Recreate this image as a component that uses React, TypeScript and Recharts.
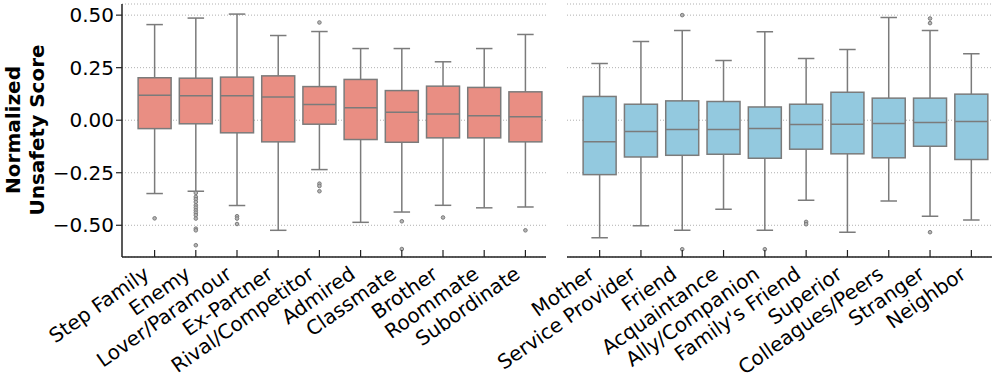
import React from "react";
import { ComposedChart, Bar, XAxis, YAxis, CartesianGrid } from "recharts";

// left panel (salmon)
const leftCats = ["Step Family", "Enemy", "Lover/Paramour", "Ex-Partner", "Rival/Competitor", "Admired", "Classmate", "Brother", "Roommate", "Subordinate"];
const leftLow = [-0.349, -0.338, -0.406, -0.524, -0.235, -0.486, -0.437, -0.405, -0.417, -0.413];
const leftQ1 = [-0.04, -0.017, -0.06, -0.103, -0.019, -0.092, -0.105, -0.084, -0.084, -0.103];
const leftMed = [0.119, 0.116, 0.116, 0.11, 0.075, 0.059, 0.038, 0.029, 0.021, 0.016];
const leftQ3 = [0.202, 0.2, 0.205, 0.211, 0.16, 0.194, 0.141, 0.162, 0.156, 0.135];
const leftHigh = [0.455, 0.486, 0.505, 0.403, 0.422, 0.341, 0.341, 0.278, 0.341, 0.408];
const leftOutliers = [
  [-0.467],
  [-0.346, -0.365, -0.376, -0.389, -0.405, -0.416, -0.429, -0.44, -0.452, -0.468, -0.516, -0.524, -0.595],
  [-0.457, -0.468, -0.494],
  [],
  [0.465, -0.302, -0.313, -0.338],
  [],
  [-0.481, -0.613],
  [-0.463],
  [],
  [-0.524],
];

// right panel (sky blue)
const rightCats = ["Mother", "Service Provider", "Friend", "Acquaintance", "Ally/Companion", "Family's Friend", "Superior", "Colleagues/Peers", "Stranger", "Neighbor"];
const rightLow = [-0.559, -0.502, -0.524, -0.424, -0.524, -0.381, -0.533, -0.384, -0.457, -0.475];
const rightQ1 = [-0.259, -0.175, -0.167, -0.162, -0.181, -0.138, -0.16, -0.179, -0.124, -0.187];
const rightMed = [-0.102, -0.054, -0.044, -0.044, -0.04, -0.021, -0.019, -0.016, -0.011, -0.006];
const rightQ3 = [0.113, 0.076, 0.092, 0.089, 0.063, 0.076, 0.133, 0.105, 0.105, 0.124];
const rightHigh = [0.27, 0.375, 0.427, 0.284, 0.421, 0.294, 0.336, 0.489, 0.427, 0.316];
const rightOutliers = [
  [],
  [],
  [0.5, -0.614],
  [],
  [-0.614],
  [-0.484, -0.495],
  [],
  [],
  [0.484, 0.462, -0.533],
  [],
];

const yTicks = [-0.5, -0.25, 0, 0.25, 0.5];
const yDomain = [-0.651, 0.553];

const FONT = "DejaVu Sans";
const LINE = "#7b7b7b";

const buildRows = (cats, low, q1, med, q3, high, outs) =>
  cats.map((name, i) => ({
    name,
    range: [low[i], high[i]],
    low: low[i],
    q1: q1[i],
    med: med[i],
    q3: q3[i],
    high: high[i],
    outliers: outs[i],
  }));

const leftRows = buildRows(leftCats, leftLow, leftQ1, leftMed, leftQ3, leftHigh, leftOutliers);
const rightRows = buildRows(rightCats, rightLow, rightQ1, rightMed, rightQ3, rightHigh, rightOutliers);

// box, whiskers and fliers, placed with the bar's own scaled y/height
const makeBox = (fill: string) => (props: any) => {
  const { x, y, width, height, payload } = props;
  const { low, high, q1, med, q3, outliers } = payload;
  const toY = (v: number) => y + ((high - v) / (high - low)) * height;
  const cx = x + width / 2;
  const capHalf = width / 4;
  return (
    <g>
      <line x1={cx} x2={cx} y1={toY(high)} y2={toY(q3)} stroke={LINE} strokeWidth={1.5} />
      <line x1={cx} x2={cx} y1={toY(q1)} y2={toY(low)} stroke={LINE} strokeWidth={1.5} />
      <line x1={cx - capHalf} x2={cx + capHalf} y1={toY(high)} y2={toY(high)} stroke={LINE} strokeWidth={1.5} />
      <line x1={cx - capHalf} x2={cx + capHalf} y1={toY(low)} y2={toY(low)} stroke={LINE} strokeWidth={1.5} />
      <rect x={x} y={toY(q3)} width={width} height={toY(q1) - toY(q3)} fill={fill} stroke={LINE} strokeWidth={1.5} />
      <line x1={x} x2={x + width} y1={toY(med)} y2={toY(med)} stroke={LINE} strokeWidth={1.5} />
      {outliers.map((o: number, k: number) => (
        <circle key={k} cx={cx} cy={toY(o)} r={1.8} fill="#b5b5b5" stroke={LINE} strokeWidth={1} />
      ))}
    </g>
  );
};

const XTick = (props: any) => {
  const { x, y, payload } = props;
  const tx = x - 4;
  const ty = y + 20;
  return (
    <g>
      <line x1={x} x2={x} y1={y} y2={y - 7} stroke="#222" strokeWidth={1.2} />
      <text x={tx} y={ty} textAnchor="end" transform={`rotate(-35, ${tx}, ${ty})`} fontSize={20} fontFamily={FONT} fill="#000">
        {payload.value}
      </text>
    </g>
  );
};

const fmt = (v: number) => (v < 0 ? "\u2212" + Math.abs(v).toFixed(2) : v.toFixed(2));

export default function App() {
  return (
    <div style={{ position: "absolute", left: 0, top: 0, width: 996, height: 387, background: "#fff" }}>
      <div style={{ position: "absolute", left: 0, top: 0 }}>
        <ComposedChart width={546} height={387} data={leftRows} margin={{ top: 4, right: 0, bottom: 0, left: 0 }} barCategoryGap="10%">
          <CartesianGrid vertical={false} stroke="#b0b0b0" strokeDasharray="1 2" />
          <XAxis
            dataKey="name"
            type="category"
            interval={0}
            height={130}
            padding={{ left: 12, right: 0 }}
            tickSize={0}
            tickMargin={0}
            tick={<XTick />}
            axisLine={{ stroke: "#222", strokeWidth: 1.5 }}
          />
          <YAxis
            domain={yDomain}
            allowDataOverflow
            ticks={yTicks}
            width={122}
            tickSize={6}
            tickMargin={2}
            tickFormatter={fmt}
            tick={{ fontSize: 20, fontFamily: FONT, fill: "#000" }}
            tickLine={{ stroke: "#222", strokeWidth: 1.2 }}
            axisLine={{ stroke: "#222", strokeWidth: 1.5 }}
          />
          <Bar dataKey="range" isAnimationActive={false} shape={makeBox("#E98E83")} />
        </ComposedChart>
      </div>
      <div style={{ position: "absolute", left: 0, top: 0 }}>
        <ComposedChart width={992} height={387} data={rightRows} margin={{ top: 4, right: 0, bottom: 0, left: 567 }} barCategoryGap="10%">
          <CartesianGrid vertical={false} stroke="#b0b0b0" strokeDasharray="1 2" />
          <XAxis
            dataKey="name"
            type="category"
            interval={0}
            height={130}
            padding={{ left: 12, right: 0 }}
            tickSize={0}
            tickMargin={0}
            tick={<XTick />}
            axisLine={{ stroke: "#222", strokeWidth: 1.5 }}
          />
          <YAxis hide domain={yDomain} allowDataOverflow ticks={yTicks} width={0} />
          <Bar dataKey="range" isAnimationActive={false} shape={makeBox("#93C9DF")} />
        </ComposedChart>
      </div>
      <svg width={60} height={260} style={{ position: "absolute", left: 0, top: 0, overflow: "visible" }}>
        <text transform="translate(20,130) rotate(-90)" textAnchor="middle" fontSize={20} fontWeight="bold" fontFamily={FONT} fill="#000">
          <tspan x={0} dy={0}>Normalized</tspan>
          <tspan x={0} dy={23.5}>Unsafety Score</tspan>
        </text>
      </svg>
    </div>
  );
}
